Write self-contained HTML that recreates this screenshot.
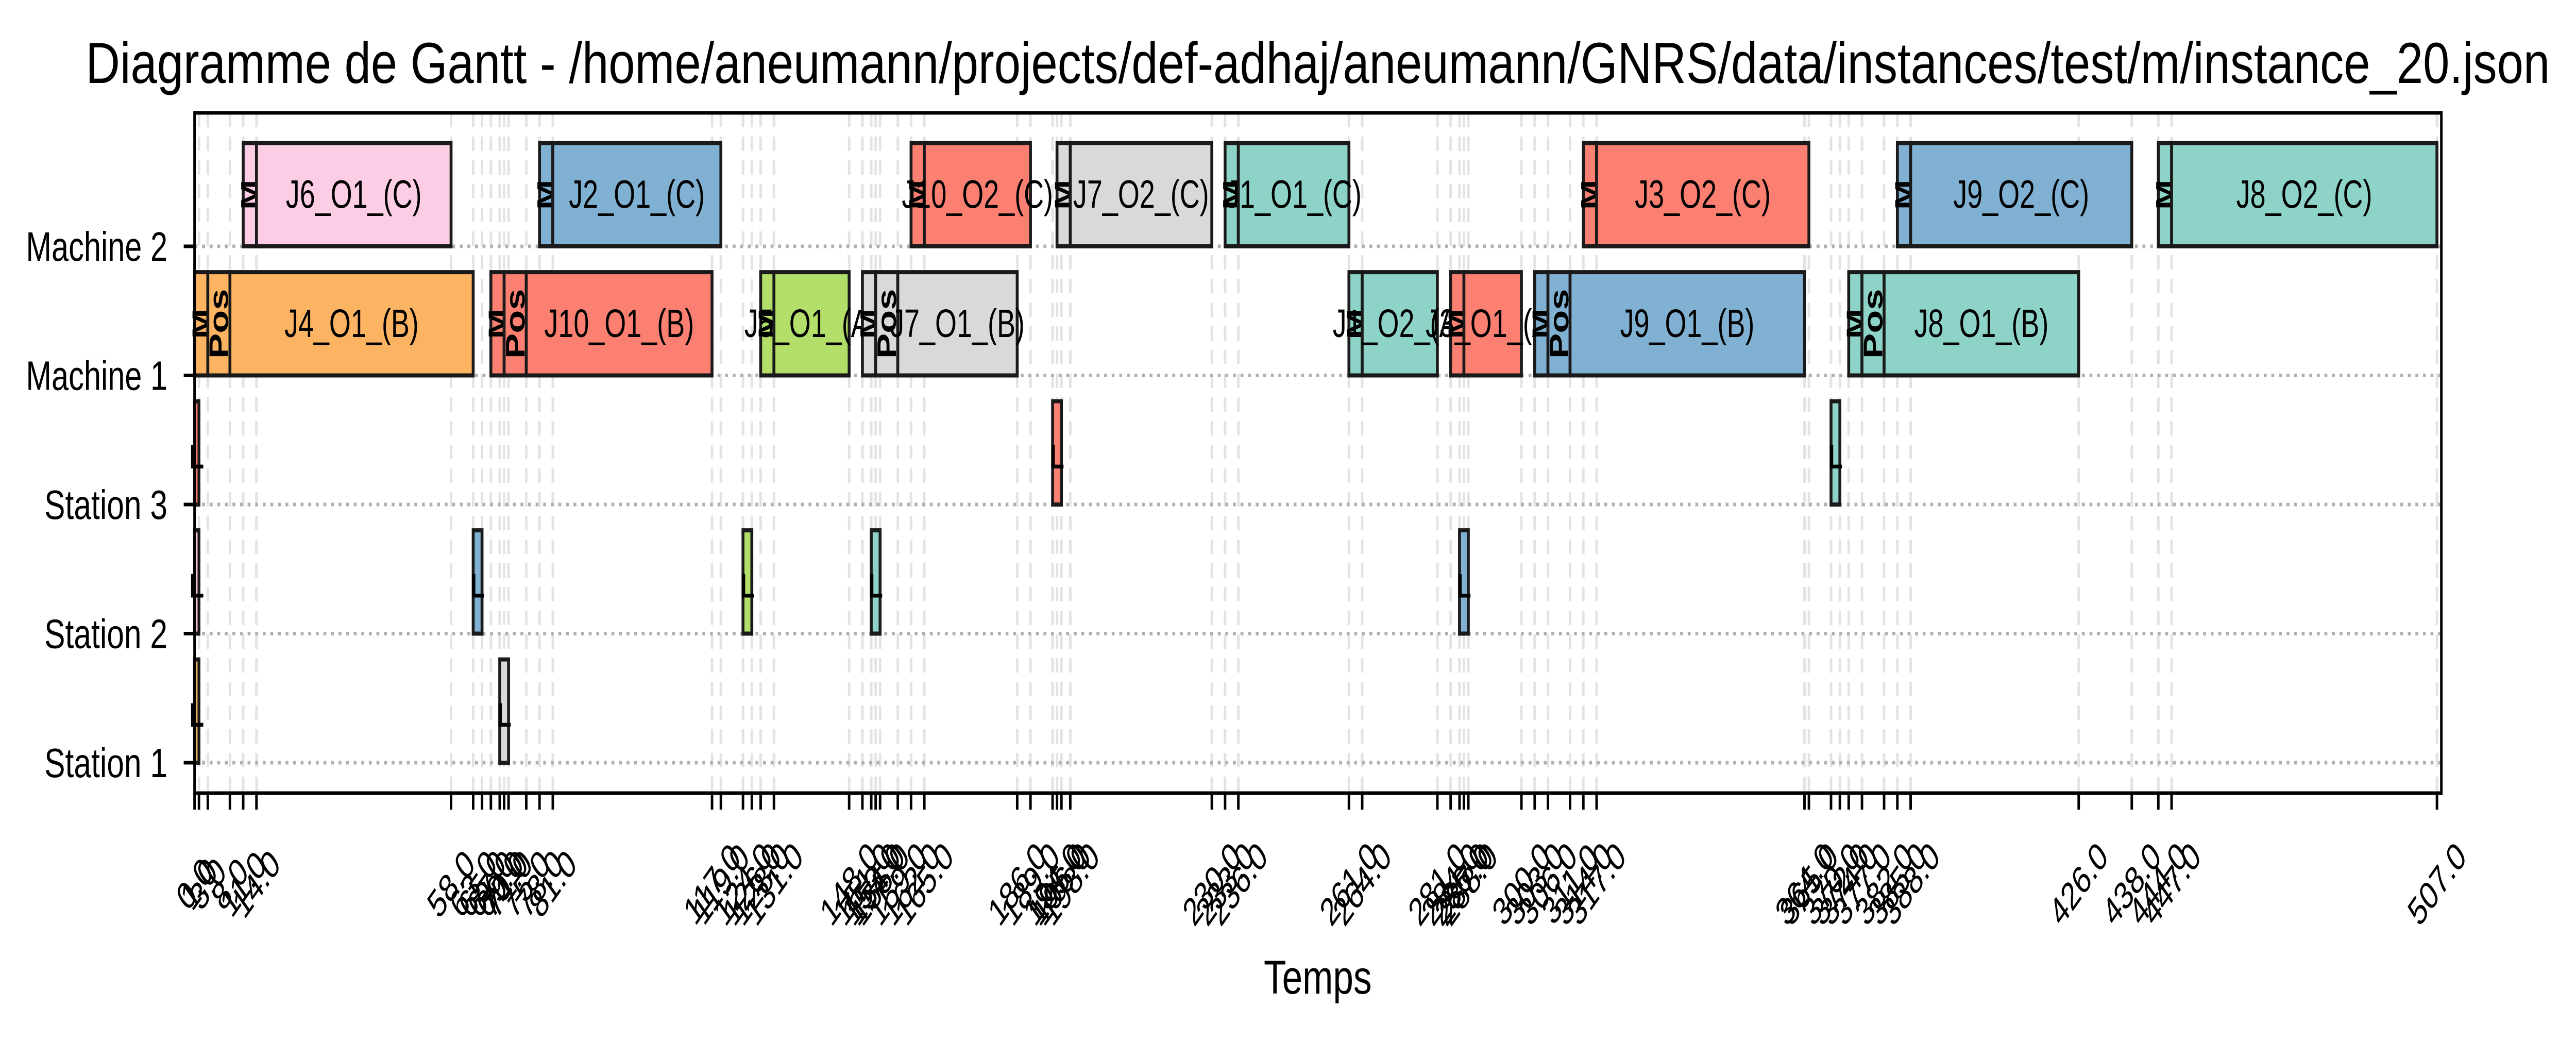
<!DOCTYPE html>
<html><head><meta charset="utf-8"><style>
html,body{margin:0;padding:0;background:#fff;width:100%;height:100%;overflow:hidden;}
svg{display:block;width:100vw;height:100vh;font-family:"Liberation Sans","DejaVu Sans",sans-serif;}
</style></head><body>
<svg id="chart" viewBox="0 0 7137 2020" preserveAspectRatio="none" xmlns="http://www.w3.org/2000/svg">
<rect x="0" y="0" width="7137" height="2020" fill="#fff"/>
<text x="3651" y="161" font-size="112" text-anchor="middle" textLength="6827" lengthAdjust="spacingAndGlyphs">Diagramme de Gantt - /home/aneumann/projects/def-adhaj/aneumann/GNRS/data/instances/test/m/instance_20.json</text>
<g id="grid"></g>
<g id="bars"></g>
<g id="axes"></g>
<text x="3651" y="1928" font-size="92" text-anchor="middle" textLength="299" lengthAdjust="spacingAndGlyphs">Temps</text>
</svg>
<script>
// ---- data ----
const rowNames = ["Station 1","Station 2","Station 3","Machine 1","Machine 2"];
const segRow   = [4,4, 4,4, 4,4, 4,4, 4,4, 4,4, 4,4, 4,4,
                  3,3,3, 3,3,3, 3,3, 3,3,3, 3,3, 3,3, 3,3,3, 3,3,3,
                  2,2,2, 1,1,1,1,1, 0,0];
const segStart = [11,14, 78,81, 162,165, 195,198, 233,236, 314,317, 385,388, 444,447,
                  0,3,8, 67,70,75, 128,131, 151,154,159, 261,264, 284,287, 303,306,311, 374,377,382,
                  0,194,370, 0,63,124,153,286, 0,69];
const segEnd   = [14,58, 81,119, 165,189, 198,230, 236,261, 317,365, 388,438, 447,507,
                  3,8,63, 70,75,117, 131,148, 154,159,186, 264,281, 287,300, 306,311,364, 377,382,426,
                  1,196,372, 1,65,126,155,288, 1,71];
const segKind  = ["M","main","M","main","M","main","M","main","M","main","M","main","M","main","M","main",
                  "M","Pos","main","M","Pos","main","M","main","M","Pos","main","M","main","M","main","M","Pos","main","M","Pos","main",
                  "L","L","L","L","L","L","L","L","L","L"];
const segLabel = ["","J6_O1_(C)","","J2_O1_(C)","","J10_O2_(C)","","J7_O2_(C)","","J1_O1_(C)","","J3_O2_(C)","","J9_O2_(C)","","J8_O2_(C)",
                  "","","J4_O1_(B)","","","J10_O1_(B)","","J5_O1_(A)","","","J7_O1_(B)","","J1_O2_(A)","","J3_O1_(A)","","","J9_O1_(B)","","","J8_O1_(B)",
                  "","","","","","","","","",""];
const segColor = ["#fccde5","#fccde5","#80b1d3","#80b1d3","#fb8072","#fb8072","#d9d9d9","#d9d9d9","#8dd3c7","#8dd3c7","#fb8072","#fb8072","#80b1d3","#80b1d3","#8dd3c7","#8dd3c7",
                  "#fdb462","#fdb462","#fdb462","#fb8072","#fb8072","#fb8072","#b3de69","#b3de69","#d9d9d9","#d9d9d9","#d9d9d9","#8dd3c7","#8dd3c7","#fb8072","#fb8072","#80b1d3","#80b1d3","#80b1d3","#8dd3c7","#8dd3c7","#8dd3c7",
                  "#fb8072","#fb8072","#8dd3c7","#fccde5","#80b1d3","#b3de69","#8dd3c7","#80b1d3","#fdb462","#d9d9d9"];

// ---- scales ----
const L = 539, R = 6764, T = 219, B = 1539;
const x0 = 539, pxPerUnit = 12.254;
function X(v){ return x0 + v*pxPerUnit; }
const rowBase = 1480, rowStep = 250.5;
function Y(r){ return rowBase - r*rowStep; }
const NS = "http://www.w3.org/2000/svg";
function mk(tag, attrs, parent){ const e=document.createElementNS(NS,tag); for(const k in attrs) e.setAttribute(k,attrs[k]); parent.appendChild(e); return e; }

const grid = document.getElementById('grid');
const bars = document.getElementById('bars');
const axes = document.getElementById('axes');

const tickSet = new Set();
segStart.forEach(v=>tickSet.add(v)); segEnd.forEach(v=>tickSet.add(v));
const ticks = Array.from(tickSet).sort((a,b)=>a-b);

ticks.forEach(v=>{
  const g = mk('line',{x1:X(v),x2:X(v),y1:T,y2:B,stroke:"#e3e3e3","stroke-width":7,"stroke-dasharray":"28,18"},grid);
  
  
});
rowNames.forEach((n,i)=>{
  const g = mk('line',{x1:L,x2:R,y1:Y(i),y2:Y(i),stroke:"#b0b0b0","stroke-width":7,"stroke-dasharray":"8,13"},grid);
  
  
});

for(let i=0;i<segRow.length;i++){
  const x1=X(segStart[i]), x2=X(segEnd[i]);
  const yb=Y(segRow[i]), yt=yb-0.8*rowStep;
  const r = mk('rect',{x:x1,y:yt,width:Math.max(1,x2-x1),height:yb-yt,fill:segColor[i],stroke:"#1a1a1a","stroke-width":8},bars);
  
  
  const cx=(x1+x2)/2, cy=(yt+yb)/2;
  if(segKind[i]==="main"){
    const t = mk('text',{x:cx,y:cy,"font-size":77,"text-anchor":"middle","dominant-baseline":"central"},bars);
    t.textContent = segLabel[i];
    
    
  } else if(segKind[i]==="M" || segKind[i]==="Pos"){
    const t = mk('text',{x:cx,y:cy,"font-size":segKind[i]==="M"?70:74,"font-weight":"bold","text-anchor":"middle","dominant-baseline":"central",transform:`rotate(-90 ${cx} ${cy})`},bars);
    t.textContent = segKind[i];
    
    
  } else {
    const t = mk('text',{x:cx,y:cy+8,"font-size":66,"font-weight":"bold","text-anchor":"middle","dominant-baseline":"central"},bars);
    t.textContent = "L";
    
    
  }
}

const frame = mk('rect',{x:L,y:T,width:R-L,height:B-T,fill:"none",stroke:"#000","stroke-width":7},axes);



rowNames.forEach((n,i)=>{
  const tk = mk('line',{x1:L-30,x2:L,y1:Y(i),y2:Y(i),stroke:"#000","stroke-width":7},axes);
  
  
  const t = mk('text',{x:L-75,y:Y(i),"font-size":80,"text-anchor":"end","dominant-baseline":"central",textLength:(n.startsWith("Machine")?392:341),lengthAdjust:"spacingAndGlyphs"},axes);
  t.textContent = n;
  
  
});

ticks.forEach(v=>{
  const tk = mk('line',{x1:X(v),x2:X(v),y1:B,y2:B+32,stroke:"#000","stroke-width":7},axes);
  
  
  const cx=X(v), cy=1715;
  const t = mk('text',{x:cx,y:cy,"font-size":76,"text-anchor":"middle","dominant-baseline":"central",transform:`rotate(-45 ${cx} ${cy})`},axes);
  t.textContent = v.toFixed(1);
  
  
});
</script>
</body></html>
